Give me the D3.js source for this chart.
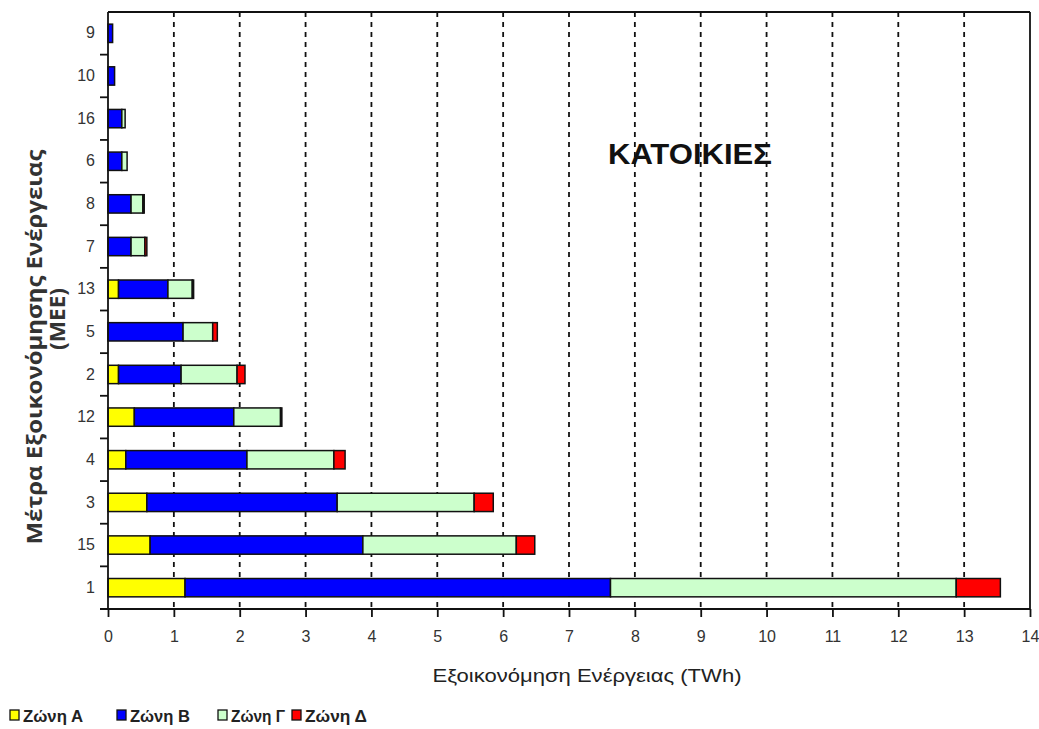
<!DOCTYPE html>
<html>
<head>
<meta charset="utf-8">
<script src="https://cdn.jsdelivr.net/npm/d3@7"></script>
<style>
  html, body { margin: 0; padding: 0; background: #fff; }
  svg { display: block; }
</style>
</head>
<body>
<svg id="chart" width="1039" height="729"></svg>
<script>
// Data (TWh savings per measure, by climate zone)
const categories = ["9","10","16","6","8","7","13","5","2","12","4","3","15","1"];
const zoneA = [0, 0, 0, 0, 0, 0, 0.16, 0, 0.16, 0.40, 0.27, 0.59, 0.64, 1.17];
const zoneB = [0.07, 0.10, 0.21, 0.21, 0.35, 0.35, 0.75, 1.14, 0.95, 1.51, 1.84, 2.89, 3.23, 6.46];
const zoneG = [0, 0, 0.05, 0.08, 0.18, 0.21, 0.37, 0.45, 0.85, 0.71, 1.32, 2.08, 2.33, 5.25];
const zoneD = [0, 0, 0, 0, 0.02, 0.03, 0.02, 0.07, 0.12, 0.02, 0.17, 0.29, 0.28, 0.67];
const seriesNames = ["Ζώνη Α", "Ζώνη Β", "Ζώνη Γ", "Ζώνη Δ"];
const seriesColors = ["#ffff00", "#0000ff", "#ccffcc", "#ff0000"];
const xTicks = [0,1,2,3,4,5,6,7,8,9,10,11,12,13,14];
const title = "ΚΑΤΟΙΚΙΕΣ";
const xLabel = "Εξοικονόμηση Ενέργειας (TWh)";
const yLabel1 = "Μέτρα Εξοικονόμησης Ενέργειας";
const yLabel2 = "(ΜΕΕ)";

const rows = categories.map((c, i) => ({cat: c, A: zoneA[i], B: zoneB[i], G: zoneG[i], D: zoneD[i]}));
const keys = ["A", "B", "G", "D"];

const svg = d3.select("#chart");
const L = 108, R = 1030, T = 12, B = 609;
const FONT = "Arial, 'Liberation Sans', sans-serif";

const x = d3.scaleLinear().domain([0, 14]).range([L, R]);
const y = d3.scaleBand().domain(categories).range([T, B]).padding(0);
const barH = y.bandwidth() * 0.43;

// gridlines
svg.append("g").selectAll("line")
  .data(xTicks.filter(t => t > 0 && t < 14))
  .join("line")
  .attr("x1", d => x(d)).attr("x2", d => x(d))
  .attr("y1", T).attr("y2", B)
  .attr("stroke", "#111").attr("stroke-width", 1.8)
  .attr("stroke-dasharray", "5,5");

// frame top/right
svg.append("line").attr("x1", L).attr("x2", R).attr("y1", T).attr("y2", T)
  .attr("stroke", "#111").attr("stroke-width", 1.8);
svg.append("line").attr("x1", R).attr("x2", R).attr("y1", T).attr("y2", B)
  .attr("stroke", "#111").attr("stroke-width", 1.8);

// stacked bars
const stacked = d3.stack().keys(keys)(rows);
const gBars = svg.append("g");
stacked.forEach((layer, li) => {
  gBars.append("g").selectAll("rect")
    .data(layer.filter(d => d[1] - d[0] > 0))
    .join("rect")
    .attr("x", d => x(d[0]))
    .attr("width", d => x(d[1]) - x(d[0]))
    .attr("y", d => y(d.data.cat) + (y.bandwidth() - barH) / 2)
    .attr("height", barH)
    .attr("fill", seriesColors[li])
    .attr("stroke", "#111")
    .attr("stroke-width", 1.5);
});

// x axis
const xAxis = d3.axisBottom(x).tickValues(xTicks).tickSize(8).tickPadding(14).tickSizeOuter(0)
  .tickFormat(d3.format("d"));
const gx = svg.append("g").attr("transform", `translate(0,${B})`).call(xAxis);
gx.select(".domain").attr("stroke", "#111").attr("stroke-width", 1.8)
  .attr("d", `M${L - 8},0H${R}`);
gx.selectAll(".tick line").attr("stroke", "#111").attr("stroke-width", 1.8);
gx.selectAll(".tick text").attr("font-family", FONT)
  .attr("font-size", 16).attr("fill", "#333");

// y axis
const yAxis = d3.axisLeft(y).tickSize(0).tickPadding(13);
const gy = svg.append("g").attr("transform", `translate(${L},0)`).call(yAxis);
gy.select(".domain").attr("stroke", "#111").attr("stroke-width", 1.8)
  .attr("d", `M0,${T}V${B}`);
gy.selectAll(".tick text").attr("font-family", FONT)
  .attr("font-size", 16).attr("fill", "#333");
// tick marks between bands
const bounds = categories.map(c => y(c)).slice(1);
gy.append("g").selectAll("line").data(bounds).join("line")
  .attr("x1", -8).attr("x2", 0).attr("y1", d => d).attr("y2", d => d)
  .attr("stroke", "#111").attr("stroke-width", 1.8);

// title
svg.append("text").attr("x", 690).attr("y", 164).attr("text-anchor", "middle")
  .attr("font-family", FONT).attr("font-weight", "bold")
  .attr("font-size", 29).attr("fill", "#111").attr("textLength", 164).attr("lengthAdjust", "spacingAndGlyphs")
  .text(title);

// x label
svg.append("text").attr("x", 587).attr("y", 682).attr("text-anchor", "middle")
  .attr("font-family", FONT)
  .attr("font-size", 18).attr("fill", "#222").attr("textLength", 309).attr("lengthAdjust", "spacingAndGlyphs")
  .text(xLabel);

// y labels
svg.append("text").attr("transform", "translate(42,347) rotate(-90)").attr("text-anchor", "middle")
  .attr("font-family", "'Open Sans', sans-serif").attr("font-weight", "bold").attr("font-size", 21).attr("fill", "#333")
  .attr("textLength", 395).attr("lengthAdjust", "spacingAndGlyphs")
  .text(yLabel1);
svg.append("text").attr("transform", "translate(65,319) rotate(-90)").attr("text-anchor", "middle")
  .attr("font-family", "'Open Sans', sans-serif").attr("font-weight", "bold").attr("font-size", 21).attr("fill", "#333")
  .attr("textLength", 62).attr("lengthAdjust", "spacingAndGlyphs")
  .text(yLabel2);

// legend
const legX = [10, 117, 218, 292];
const legW = [60, 60, 54, 62];
const leg = svg.append("g");
seriesNames.forEach((n, i) => {
  leg.append("rect").attr("x", legX[i]).attr("y", 710).attr("width", 9).attr("height", 10)
    .attr("fill", seriesColors[i]).attr("stroke", "#111").attr("stroke-width", 1.3);
  leg.append("text").attr("x", legX[i] + 13).attr("y", 722)
    .attr("font-family", FONT).attr("font-size", 17)
    .attr("font-weight", "bold").attr("fill", "#222")
    .attr("textLength", legW[i]).attr("lengthAdjust", "spacingAndGlyphs").text(n);
});
</script>
</body>
</html>
